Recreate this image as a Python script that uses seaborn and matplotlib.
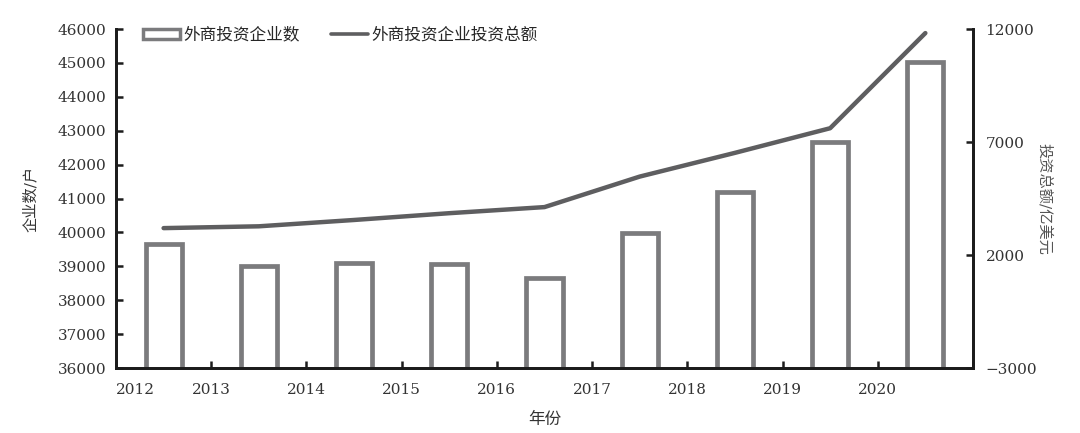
import matplotlib
matplotlib.use("Agg")
import matplotlib.pyplot as plt
from matplotlib.patches import Patch
from matplotlib.lines import Line2D
import numpy as np
import seaborn as sns

# data
years = ["2012", "2013", "2014", "2015", "2016", "2017", "2018", "2019", "2020"]
firm_counts = [39660, 39010, 39090, 39060, 38660, 39990, 41200, 42680, 45020]
invest_total = [3190, 3270, 3550, 3850, 4120, 5470, 6520, 7610, 11820]

left_ticks = list(range(36000, 46001, 1000))
right_ticks = [-3000, 2000, 7000, 12000]

BAR_EDGE = "#7b7b7d"
LINE_C = "#5e5e60"
AXIS_C = "#1c1c1c"
TEXT_C = "#333333"

sns.set_theme(style="white")
plt.rcParams["font.family"] = ["DejaVu Serif", "Noto Sans CJK SC"]
plt.rcParams["axes.unicode_minus"] = True

fig = plt.figure(figsize=(10.8, 4.33), dpi=100)
ax = fig.add_axes([0.1074, 0.1501, 0.7935, 0.7829])

sns.barplot(x=years, y=firm_counts, color="white", edgecolor=BAR_EDGE,
            linewidth=3.4, width=0.38, saturation=1, ax=ax)

ax2 = ax.twinx()
sns.lineplot(x=years, y=invest_total, color=LINE_C, linewidth=3.2,
             solid_capstyle="round", sort=False, ax=ax2)

ax.set_ylim(36000, 46000)
ax2.set_ylim(-3000, 12000)
ax.set_yticks(left_ticks)
ax2.set_yticks(right_ticks)
ax.set_xlim(-0.5, len(years) - 0.5)

# ticks sit on the category boundaries, labels hang off them
xt = np.arange(len(years) + 1) - 0.5
ax.set_xticks(xt)
ax.set_xticklabels(years + [""])
ax.get_xticklabels()[0].set_ha("left")

for a in (ax, ax2):
    a.spines["top"].set_visible(False)
    for s in ("left", "right", "bottom"):
        a.spines[s].set_color(AXIS_C)
        a.spines[s].set_linewidth(2.0)
    a.grid(False)

ax.tick_params(axis="y", direction="in", length=5, width=1.8, pad=7,
               labelsize=11, color=AXIS_C, labelcolor=TEXT_C, left=True)
ax.tick_params(axis="x", direction="in", length=5, width=1.8, pad=11,
               labelsize=11, color=AXIS_C, labelcolor=TEXT_C, bottom=True)
ax2.tick_params(axis="y", direction="in", length=5, width=1.8, pad=9,
                labelsize=11, color=AXIS_C, labelcolor=TEXT_C, right=True)

ax.set_ylabel("企业数/户", fontsize=11, color=TEXT_C, rotation=90, va="center")
ax.yaxis.set_label_coords(-0.100, 0.5)
ax2.set_ylabel("投资总额/亿美元", fontsize=11, color="#555555", rotation=270, va="center")
ax2.yaxis.set_label_coords(1.083, 0.5)
ax.set_xlabel("年份", fontsize=12, color=TEXT_C)
ax.xaxis.set_label_coords(0.5, -0.127)

handles = [
    Patch(facecolor="white", edgecolor=BAR_EDGE, linewidth=2.5),
    Line2D([], [], color=LINE_C, linewidth=2.6),
]
ax.legend(handles, ["外商投资企业数", "外商投资企业投资总额"], loc="center left",
          bbox_to_anchor=(0.0315, 0.982), ncol=2, frameon=False,
          borderaxespad=0, borderpad=0, handlelength=2.2, handleheight=0.55,
          handletextpad=0.2, columnspacing=1.9,
          prop={"family": ["Noto Sans CJK SC"], "size": 12})

fig.savefig("out.png", dpi=100, facecolor="white")
